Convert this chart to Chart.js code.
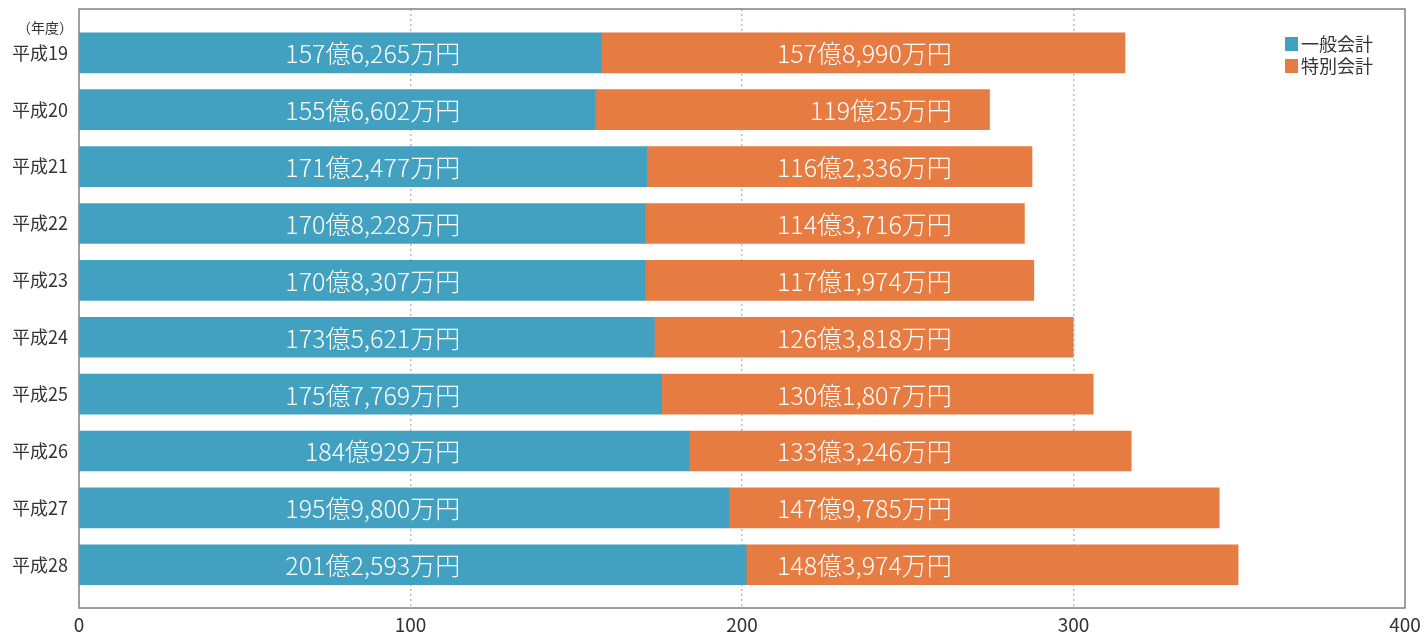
<!DOCTYPE html>
<html lang="ja">
<head>
<meta charset="UTF-8">
<title>一般会計・特別会計</title>
<script src="https://cdn.jsdelivr.net/npm/chart.js"></script>
<style>
  html, body { margin: 0; padding: 0; background: #fff; }
  #wrap { width: 1427px; height: 639px; }
</style>
</head>
<body>
<div id="wrap"><canvas id="chart"></canvas></div>
<script>
// 年度
const years = ['平成19', '平成20', '平成21', '平成22', '平成23', '平成24', '平成25', '平成26', '平成27', '平成28'];
// 金額（万円）
const general = [1576265, 1556602, 1712477, 1708228, 1708307, 1735621, 1757769, 1840929, 1959800, 2012593];
const special = [1578990, 1190025, 1162336, 1143716, 1171974, 1263818, 1301807, 1333246, 1479785, 1483974];
const xTicks = [0, 100, 200, 300, 400];

const FONT = '"Noto Sans CJK JP", "Noto Sans", sans-serif';

// 157億6,265万円 の形にする
function yen(v) {
  const oku = Math.floor(v / 10000);
  const man = v % 10000;
  return oku + '億' + (man ? man.toLocaleString('en-US') + '万円' : '円');
}

const toPoints = arr => arr.map((v, i) => ({ x: v / 10000, y: i }));

// 棒の中の金額ラベル（右揃え位置は目盛り値で指定）
const valueLabels = {
  id: 'valueLabels',
  afterDatasetsDraw(chart) {
    const ctx = chart.ctx;
    const xs = chart.scales.x;
    const anchors = [115, 263.3];
    ctx.save();
    ctx.font = '300 25px ' + FONT;
    ctx.fillStyle = '#fff';
    ctx.textAlign = 'right';
    ctx.textBaseline = 'middle';
    chart.data.datasets.forEach((ds, d) => {
      const src = d === 0 ? general : special;
      chart.getDatasetMeta(d).data.forEach((bar, i) => {
        ctx.fillText(yen(src[i]), xs.getPixelForValue(anchors[d]), bar.y + 1);
      });
    });
    ctx.restore();
  }
};

// 枠線・凡例・（年度）
const frame = {
  id: 'frame',
  afterDraw(chart) {
    const ctx = chart.ctx;
    const a = chart.chartArea;
    const ys = chart.scales.y;
    ctx.save();
    ctx.strokeStyle = '#808080';
    ctx.lineWidth = 1.5;
    ctx.strokeRect(a.left, a.top, a.right - a.left, a.bottom - a.top);

    ctx.font = '14px ' + FONT;
    ctx.fillStyle = '#333';
    ctx.textAlign = 'right';
    ctx.textBaseline = 'middle';
    ctx.fillText('（年度）', a.left - 6, ys.getPixelForValue(-0.44));

    // 凡例
    ctx.font = '18px ' + FONT;
    ctx.textAlign = 'left';
    chart.data.datasets.forEach((ds, i) => {
      const y = a.top + 35 + i * 22;
      ctx.fillStyle = ds.backgroundColor;
      ctx.fillRect(a.right - 120, y - 7, 13, 14);
      ctx.fillStyle = '#333';
      ctx.fillText(ds.label, a.right - 104, y);
    });
    ctx.restore();
  }
};

new Chart(document.getElementById('chart'), {
  type: 'bar',
  data: {
    datasets: [
      { label: '一般会計', data: toPoints(general), backgroundColor: '#42a1c1', barThickness: 40 },
      { label: '特別会計', data: toPoints(special), backgroundColor: '#e67c41', barThickness: 40 }
    ]
  },
  options: {
    indexAxis: 'y',
    responsive: true,
    maintainAspectRatio: false,
    animation: false,
    layout: { padding: { top: 9, right: 22, left: 0, bottom: 0 } },
    plugins: { legend: { display: false }, tooltip: { enabled: false } },
    scales: {
      x: {
        type: 'linear',
        stacked: true,
        min: 0,
        max: 400,
        afterBuildTicks: s => { s.ticks = xTicks.map(v => ({ value: v })); },
        afterFit: s => { s.height = 31; },
        grid: {
          drawTicks: false,
          color: c => (c.tick.value === 0 || c.tick.value === 400) ? 'rgba(0,0,0,0)' : '#bdbdbd',
          lineWidth: 1.5
        },
        border: { display: false, dash: [2, 3] },
        ticks: { padding: 5, color: '#333', font: { family: FONT, size: 19 } }
      },
      y: {
        type: 'linear',
        stacked: true,
        reverse: true,
        offset: false,
        min: -0.77,
        max: 9.76,
        afterBuildTicks: s => { s.ticks = years.map((_, i) => ({ value: i })); },
        afterFit: s => { s.width = 79; s.paddingTop = 0; s.paddingBottom = 0; },
        border: { display: false },
        grid: { display: false, drawTicks: false },
        ticks: {
          padding: 11,
          color: '#333',
          font: { family: FONT, size: 18 },
          callback: v => years[v]
        }
      }
    }
  },
  plugins: [valueLabels, frame]
});
</script>
</body>
</html>
